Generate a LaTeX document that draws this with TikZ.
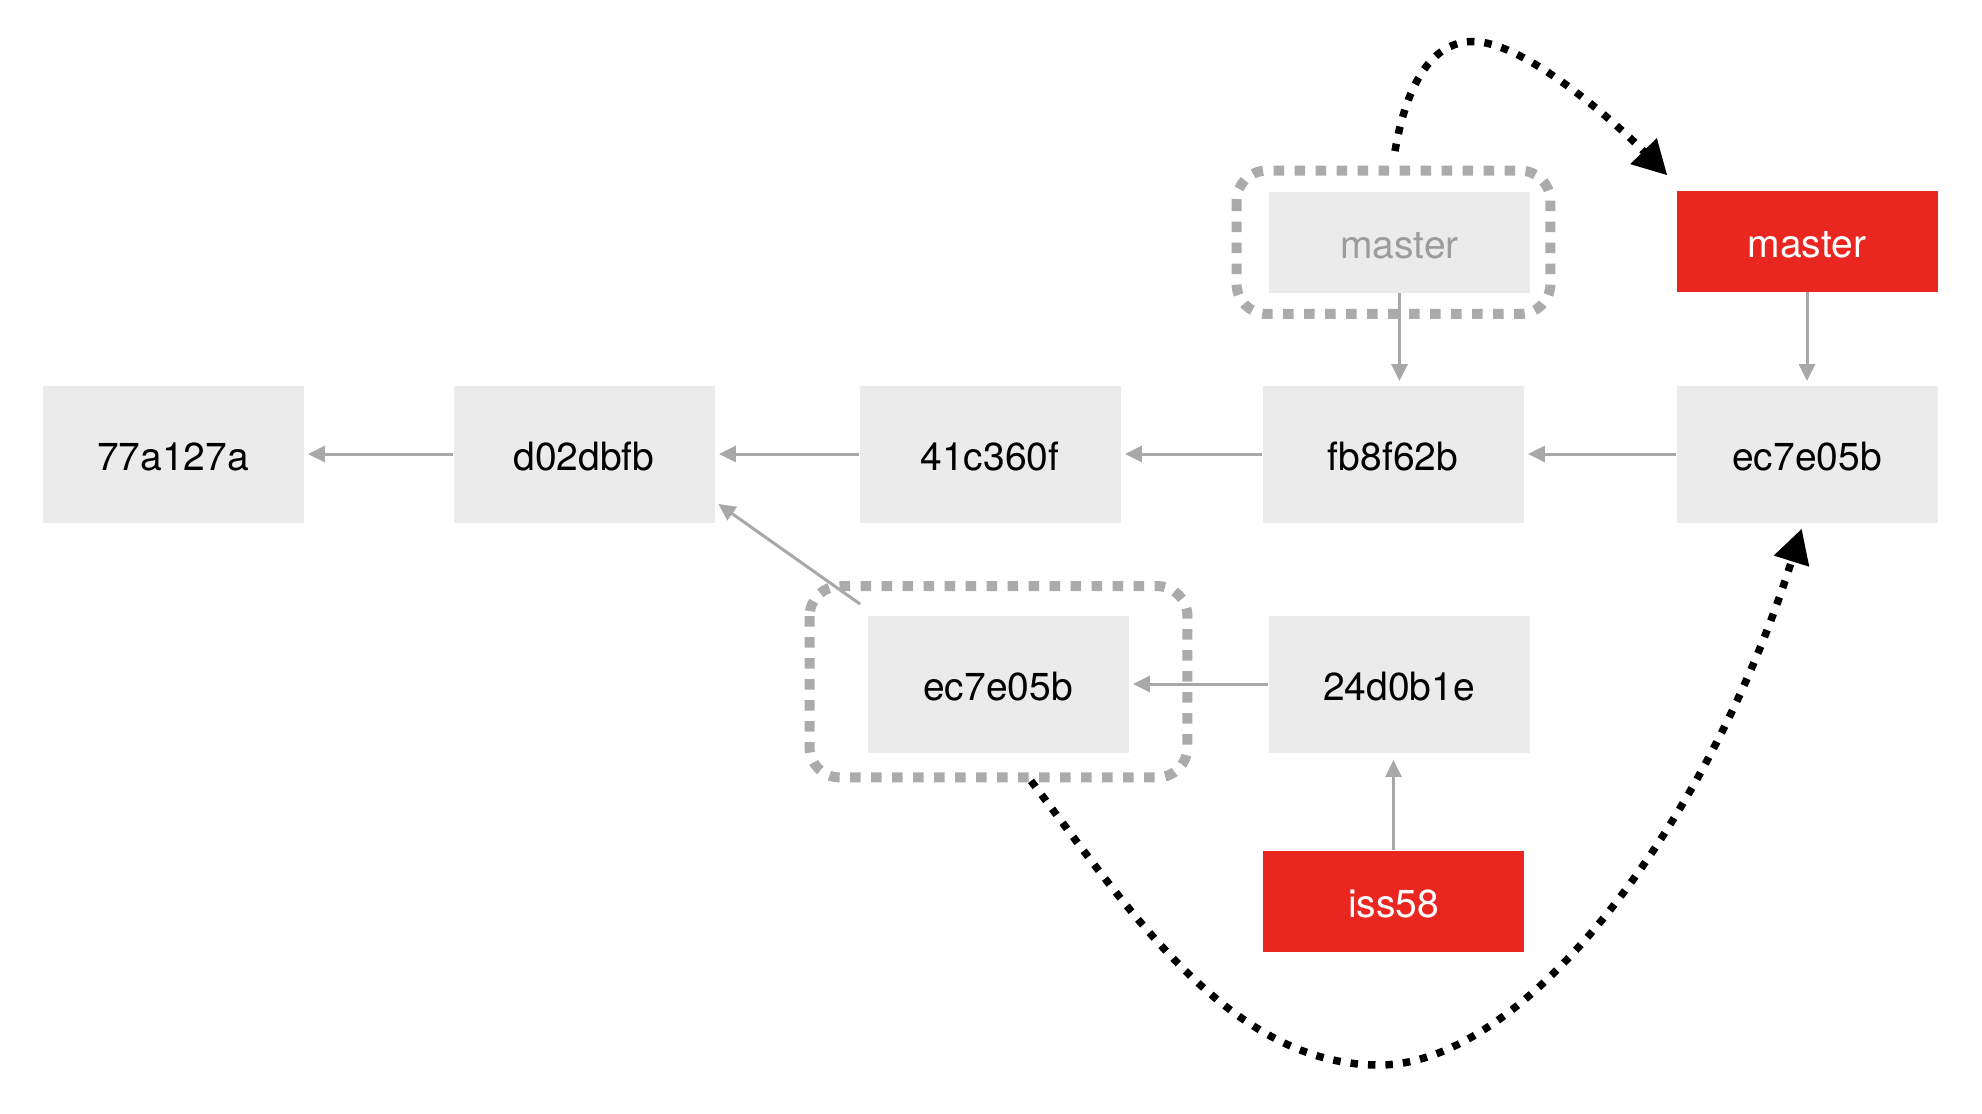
\documentclass[tikz,border=0pt]{standalone}
\usepackage{fontspec}
\setmainfont{TeX Gyre Heros}
\usetikzlibrary{arrows.meta,calc}
\definecolor{boxgray}{HTML}{EBEBEB}
\definecolor{linegray}{HTML}{A8A8A8}
\definecolor{labelgray}{HTML}{9C9C9C}
\definecolor{branchred}{HTML}{EA2621}
\definecolor{dashgray}{HTML}{ABABAB}

\begin{document}
\begin{tikzpicture}[x=0.5pt,y=-0.5pt,
  font=\fontsize{19.5pt}{23pt}\selectfont,
  label/.style={inner sep=0pt, text height=16.5pt, text depth=0pt},
  commit/.style={label, fill=boxgray, minimum width=130.5pt, minimum height=68.5pt, text=black},
  branch/.style={label, fill=branchred, minimum width=130.5pt, minimum height=50.5pt, text=white},
  oldbranch/.style={label, fill=boxgray, minimum width=130.5pt, minimum height=50.5pt, text=labelgray},
  parent/.style={draw=linegray, line width=1.5pt, shorten >=2pt, -{Triangle[length=8.5pt,width=8pt]}},
  moved/.style={draw=dashgray, line width=5pt, dash pattern=on 5.25pt off 5.25pt, rounded corners=15pt},
  jump/.style={draw=black, line width=3.75pt, dash pattern=on 3.75pt off 5pt, -{Triangle[length=17pt,width=17.5pt]}}
]
\useasboundingbox (0,0) rectangle (1982,1114);

% commits
\node[commit] (c0) at (173,454) {77a127a};
\node[commit] (c1) at (584,454) {d02dbfb};
\node[commit] (c2) at (990,454) {41c360f};
\node[commit] (c3) at (1393,454) {fb8f62b};
\node[commit] (c4) at (1807,454) {ec7e05b};
\node[commit] (c4old) at (998,684) {ec7e05b};
\node[commit] (c5) at (1399,684) {24d0b1e};

% branch pointers
\node[oldbranch] (mold) at (1399.5,242) {master};
\node[branch] (mnew) at (1807,241) {master};
\node[branch] (iss) at (1393.5,901) {iss58};

% parent links
\draw[parent] (c1.west) -- (c0.east);
\draw[parent] (c2.west) -- (c1.east);
\draw[parent] (c3.west) -- (c2.east);
\draw[parent] (c4.west) -- (c3.east);
\draw[parent] (c5.west) -- (c4old.east);
\coordinate (diagA) at ($(c4old.north west)+(-7,-11)$);
\coordinate (diagB) at ($(c1.south east)+(3.4,-19)$);
\draw[parent, shorten >=0pt] (diagA) -- (diagB);

% branch references
\draw[parent] (mold.south) -- (mold.south |- c3.north);
\draw[parent] (mnew.south) -- (c4.north);
\draw[parent, shorten >=3.5pt] (iss.north) -- (iss.north |- c5.south);

% outlines around the old positions
\draw[moved] ($(mold.north west)+(-32,-20.5)$) rectangle ($(mold.south east)+(20,21)$);
\draw[moved] ($(c4old.north west)+(-57.5,-29)$) rectangle ($(c4old.south east)+(58.5,24.5)$);

% moves
\coordinate (topA) at ($(mold.north)+(-4.5,-40)$);
\coordinate (topP) at (1473,41.5);
\coordinate (topB) at ($(mnew.north west)+(-8.75,-14.75)$);
\draw[jump] (topA) .. controls +(10,-59) and +(-45,0) .. (topP)
  .. controls +(50,0) and +(-56,-57) .. (topB);

\coordinate (botA) at ($(c4old.south)+(33,28)$);
\coordinate (botP) at (1379,1065);
\coordinate (botB) at ($(c4.south)+(-5.3,5.8)$);
\draw[jump] (botA) .. controls +(97,127) and +(-150,0) .. (botP)
  .. controls +(150,0) and +(-90,286) .. (botB);
\end{tikzpicture}
\end{document}
